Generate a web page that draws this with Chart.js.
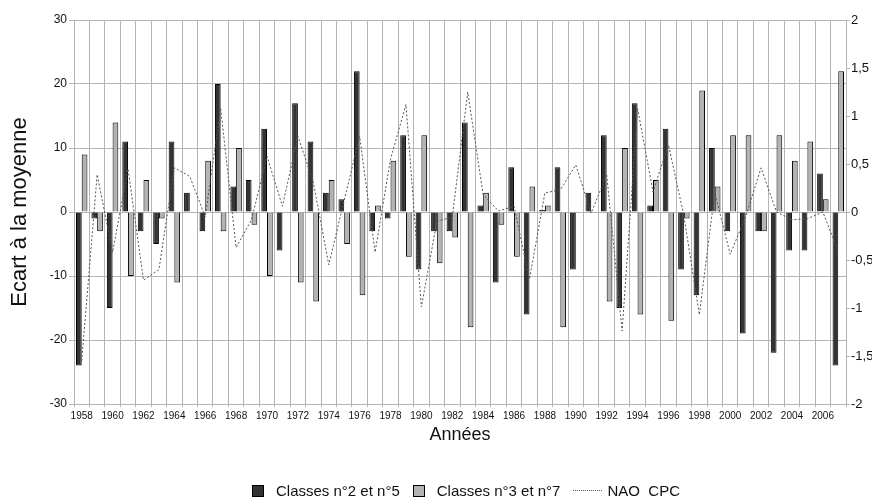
<!DOCTYPE html>
<html>
<head>
<meta charset="utf-8">
<script src="https://cdn.jsdelivr.net/npm/chart.js@4/dist/chart.umd.min.js"></script>
<style>
  html, body { margin: 0; padding: 0; background: #fff; }
  #wrap { position: relative; width: 872px; height: 498px; overflow: hidden; }
  #chart { position: absolute; left: 0; top: 0; }
  #legend {
    position: absolute; left: 252px; top: 482px;
    display: flex; align-items: center;
    font: 15px "Liberation Sans", Arial, sans-serif; color: #111; white-space: nowrap;
  }
  #legend .item { display: flex; align-items: center; margin-right: 13px; }
  #legend .box { width: 10px; height: 10px; border: 1px solid #000; margin-right: 12px; }
  #legend .dots { width: 29px; border-top: 1px dotted #555; margin-right: 5px; }
</style>
</head>
<body>
<div id="wrap">
  <canvas id="chart" width="872" height="498"></canvas>
  <div id="legend"></div>
</div>
<script>
// Years 1958–2007
const years = [
  '1958','1959','1960','1961','1962','1963','1964','1965','1966','1967',
  '1968','1969','1970','1971','1972','1973','1974','1975','1976','1977',
  '1978','1979','1980','1981','1982','1983','1984','1985','1986','1987',
  '1988','1989','1990','1991','1992','1993','1994','1995','1996','1997',
  '1998','1999','2000','2001','2002','2003','2004','2005','2006','2007'
];

// Deviation from the mean, classes 2 and 5
const classes25 = [
  -24, -1, -15, 11, -3, -5, 11, 3, -3, 20,
  4, 5, 13, -6, 17, 11, 3, 2, 22, -3,
  -1, 12, -9, -3, -3, 14, 1, -11, 7, -16,
  0.3, 7, -9, 3, 12, -15, 17, 1, 13, -9,
  -13, 10, -3, -19, -3, -22, -6, -6, 6, -24
];

// Deviation from the mean, classes 3 and 7
const classes37 = [
  9, -3, 14, -10, 5, -1, -11, 0, 8, -3,
  10, -2, -10, 0, -11, -14, 5, -5, -13, 1,
  8, -7, 12, -8, -4, -18, 3, -2, -7, 4,
  1, -18, 0, 0, -14, 10, -16, 5, -17, -1,
  19, 4, 12, 12, -3, 12, 8, 11, 2, 22
];

// NAO index (CPC), right axis
const naoCpc = [
  -1.55, 0.39, -0.42, 0.45, -0.71, -0.60, 0.46, 0.37, -0.05, 1.08,
  -0.37, -0.08, 0.58, 0.06, 0.79, 0.31, -0.55, 0.12, 0.79, -0.42,
  0.55, 1.12, -0.99, -0.10, -0.05, 1.25, 0.18, 0.01, 0.06, -0.70,
  0.20, 0.23, 0.49, -0.01, 0.39, -1.24, 1.08, 0.21, 0.70, -0.04,
  -1.07, 0.20, -0.44, -0.05, 0.46, 0.00, -0.08, -0.07, 0.00, -0.41
];

const seriesLabels = ['Classes n°2 et n°5', 'Classes n°3 et n°7', 'NAO  CPC'];

const FONT = '"Liberation Sans", Arial, sans-serif';
const GRID = '#b4b4b4';
const TEXT = '#111';

const chart = new Chart(document.getElementById('chart'), {
  data: {
    labels: years,
    datasets: [
      {
        type: 'line', label: seriesLabels[2], data: naoCpc, yAxisID: 'y2', order: 0,
        borderColor: '#555', borderWidth: 1, borderDash: [2, 2],
        pointRadius: 0, tension: 0, fill: false
      },
      {
        type: 'bar', label: seriesLabels[0], data: classes25, yAxisID: 'y', order: 1,
        backgroundColor: '#333333', borderColor: '#000', borderWidth: 1,
        categoryPercentage: 0.74, barPercentage: 1
      },
      {
        type: 'bar', label: seriesLabels[1], data: classes37, yAxisID: 'y', order: 1,
        backgroundColor: '#b3b3b3', borderColor: '#000', borderWidth: 1,
        categoryPercentage: 0.74, barPercentage: 1
      }
    ]
  },
  options: {
    responsive: false,
    animation: false,
    layout: { padding: { left: 0, right: 0, top: 20, bottom: 44 } },
    plugins: { legend: { display: false }, tooltip: { enabled: false } },
    scales: {
      x: {
        offset: true,
        grid: { color: GRID, offset: true, tickLength: 3 },
        border: { color: GRID },
        ticks: {
          autoSkip: false, maxRotation: 0, minRotation: 0, padding: 3,
          color: TEXT, font: { family: FONT, size: 10 },
          callback: (v, i) => (i % 2 === 0 ? years[i] : '')
        },
        title: {
          display: true, text: 'Années', color: TEXT,
          font: { family: FONT, size: 18 }, padding: { top: 0, bottom: 8 }
        },
        afterFit: s => { s.height = 50; }
      },
      y: {
        position: 'left', min: -30, max: 30,
        grid: { color: GRID, tickLength: 5 },
        border: { color: GRID },
        ticks: { stepSize: 10, padding: 2, color: TEXT, font: { family: FONT, size: 12 } },
        title: {
          display: true, text: 'Ecart à la moyenne', color: TEXT,
          font: { family: FONT, size: 22 }, padding: { top: 7, bottom: 0 }
        },
        afterFit: s => { s.width = 74; }
      },
      y2: {
        position: 'right', min: -2, max: 2,
        grid: { drawOnChartArea: false, color: GRID, tickLength: 4 },
        border: { color: GRID },
        ticks: {
          stepSize: 0.5, padding: 1, color: TEXT, font: { family: FONT, size: 13 },
          callback: v => String(v).replace('.', ',')
        },
        afterFit: s => { s.width = 26; }
      }
    }
  }
});

// Legend row under the chart, built from the datasets
const legend = document.getElementById('legend');
[chart.data.datasets[1], chart.data.datasets[2], chart.data.datasets[0]].forEach(ds => {
  const item = document.createElement('div');
  item.className = 'item';
  const mark = document.createElement('span');
  if (ds.type === 'line') {
    mark.className = 'dots';
  } else {
    mark.className = 'box';
    mark.style.background = ds.backgroundColor;
  }
  const txt = document.createElement('span');
  txt.textContent = ds.label;
  txt.style.whiteSpace = 'pre';
  item.appendChild(mark);
  item.appendChild(txt);
  legend.appendChild(item);
});
</script>
</body>
</html>
